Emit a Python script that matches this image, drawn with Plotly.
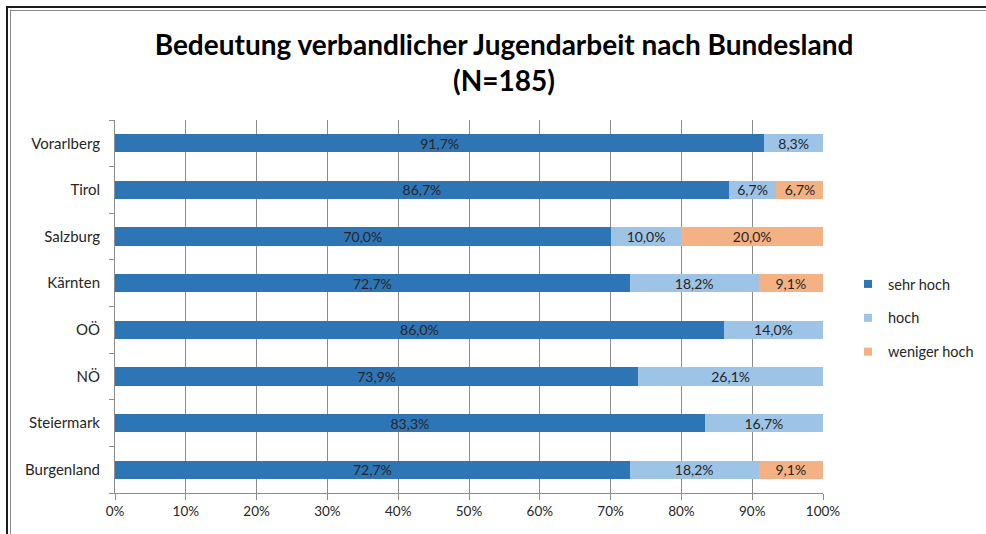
import plotly.graph_objects as go

categories = ["Burgenland", "Steiermark", "NÖ", "OÖ", "Kärnten", "Salzburg", "Tirol", "Vorarlberg"]
sehr_hoch = [72.7, 83.3, 73.9, 86.0, 72.7, 70.0, 86.7, 91.7]
hoch = [18.2, 16.7, 26.1, 14.0, 18.2, 10.0, 6.7, 8.3]
weniger_hoch = [9.1, 0, 0, 0, 9.1, 20.0, 6.7, 0]
series_names = ["sehr hoch", "hoch", "weniger hoch"]
colors = ["#2E75B6", "#9DC3E6", "#F4B183"]
x_ticks = [0, 10, 20, 30, 40, 50, 60, 70, 80, 90, 100]

W, H = 986, 534
L, R, T, B = 115, 163, 120, 41
pw, ph = W - L - R, H - T - B

def fmt(v):
    return ("%.1f%%" % v).replace(".", ",") if v > 0 else ""

FONT = "Lato"
fig = go.Figure()
for name, vals, col in zip(series_names, [sehr_hoch, hoch, weniger_hoch], colors):
    fig.add_trace(go.Bar(
        y=categories, x=vals, name=name, orientation="h",
        marker=dict(color=col, line=dict(width=0)),
        text=[fmt(v) for v in vals], textposition="inside",
        insidetextanchor="middle", constraintext="none",
        textfont=dict(family=FONT, size=14, color="#262626"),
        legendgroup=name, showlegend=False, hoverinfo="x+y+name",
    ))
# legend entries (small square markers like the reference)
for name, col in zip(series_names, colors):
    fig.add_trace(go.Scatter(
        x=[None], y=[None], mode="markers", name=name, legendgroup=name,
        marker=dict(symbol="square", size=8, color=col),
        showlegend=True, hoverinfo="skip",
    ))

def px_x(p):
    return (p - L) / pw

def px_y(p):
    return (H - B - p) / ph

shapes = [
    dict(type="line", xref="paper", yref="paper", x0=px_x(7), x1=px_x(7), y0=px_y(6), y1=px_y(H + 5), line=dict(color="#1a1a1a", width=2)),
    dict(type="line", xref="paper", yref="paper", x0=px_x(10.5), x1=px_x(10.5), y0=px_y(9.5), y1=px_y(H + 5), line=dict(color="#8a8a8a", width=1)),
    dict(type="line", xref="paper", yref="paper", x0=px_x(6), x1=px_x(W + 5), y0=px_y(7), y1=px_y(7), line=dict(color="#1a1a1a", width=2)),
    dict(type="line", xref="paper", yref="paper", x0=px_x(10), x1=px_x(W + 5), y0=px_y(10.5), y1=px_y(10.5), line=dict(color="#8a8a8a", width=1)),
]

fig.update_layout(
    width=W, height=H,
    margin=dict(l=L, r=R, t=T, b=B, autoexpand=False),
    paper_bgcolor="white", plot_bgcolor="white",
    barmode="stack", bargap=0.61,
    font=dict(family=FONT, size=13, color="#262626"),
    title=dict(
        text="<b>Bedeutung verbandlicher Jugendarbeit nach Bundesland<br>(N=185)</b>",
        x=504 / W, xanchor="center", y=1 - 55 / H, yanchor="middle",
        font=dict(family=FONT, size=28, color="#000000"),
    ),
    xaxis=dict(
        range=[0, 100], tickvals=x_ticks, ticktext=[f"{v}%" for v in x_ticks],
        showgrid=True, gridcolor="#8c8c8c", gridwidth=1,
        showline=True, linecolor="#8c8c8c", linewidth=1,
        ticks="outside", ticklen=6, tickcolor="#8c8c8c",
        tickfont=dict(family=FONT, size=13.5, color="#262626"),
        zeroline=False, fixedrange=True,
    ),
    yaxis=dict(
        categoryorder="array", categoryarray=categories,
        showline=True, linecolor="#8c8c8c", linewidth=1,
        ticks="outside", ticklen=5, tickcolor="#8c8c8c", tickson="boundaries",
        tickfont=dict(family=FONT, size=15, color="#262626"),
        ticklabelstandoff=11, fixedrange=True,
    ),
    legend=dict(
        x=px_x(848), y=px_y(268), xanchor="left", yanchor="top",
        traceorder="grouped", tracegroupgap=12,
        font=dict(family=FONT, size=14.5, color="#262626"),
        itemwidth=30, bgcolor="rgba(0,0,0,0)",
    ),
    shapes=shapes,
)

fig.write_html("out.html", config={"displayModeBar": False},
               post_script="document.body.style.margin='0';document.body.style.overflow='hidden';")
